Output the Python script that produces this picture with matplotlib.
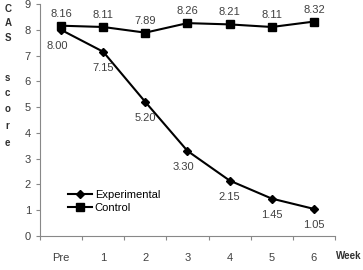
import matplotlib.pyplot as plt
import numpy as np

plt.rcParams['font.family'] = ['Liberation Sans', 'DejaVu Sans']

weeks = ['Pre', '1', '2', '3', '4', '5', '6']
experimental = [8.00, 7.15, 5.20, 3.30, 2.15, 1.45, 1.05]
control = [8.16, 8.11, 7.89, 8.26, 8.21, 8.11, 8.32]

fig = plt.figure(figsize=(3.63, 2.70), dpi=100)
ax = fig.add_axes([0.110, 0.126, 0.813, 0.859])

x = np.arange(len(weeks))
ax.plot(x, experimental, '-D', color='black', lw=1.5, ms=4, label='Experimental')
ax.plot(x, control, '-s', color='black', lw=1.5, ms=5.5, label='Control')

# data labels
for i, v in enumerate(control):
    ax.annotate('%.2f' % v, (i, v), xytext=(0, 5), textcoords='offset points',
                ha='center', va='bottom', fontsize=8, color='#404040')
for i, v in enumerate(experimental):
    dx = -3 if i in (0, 3) else 0
    dy = -8
    ax.annotate('%.2f' % v, (i, v), xytext=(dx, dy), textcoords='offset points',
                ha='center', va='top', fontsize=8, color='#404040')

ax.set_xlim(-0.5, 6.5)
ax.set_ylim(0, 9)
ax.set_yticks(range(10))
ax.set_xticks(np.arange(-0.5, 7, 1))
ax.set_xticklabels([])
ax.set_xticks(x, minor=True)
ax.set_xticklabels(weeks, minor=True)
ax.tick_params(axis='x', which='minor', length=0, pad=12, labelsize=8, labelcolor='#404040')
ax.tick_params(axis='x', which='major', length=3, color='#888888')
ax.tick_params(axis='y', length=3, color='#888888', labelsize=8, labelcolor='#404040')

for s in ['top', 'right']:
    ax.spines[s].set_visible(False)
for s in ['left', 'bottom']:
    ax.spines[s].set_color('#888888')

ax.legend(loc='lower left', bbox_to_anchor=(0.08, 0.08), frameon=False, fontsize=8,
          handlelength=2.2, handletextpad=0.2, labelspacing=0.3, borderaxespad=0)

# stacked y label (pixel rows from top)
letters = ['C', 'A', 'S', 's', 'c', 'o', 'r', 'e']
rows = [9, 23, 38, 78, 93, 109, 126, 143]
for ch, r in zip(letters, rows):
    fig.text(0.014, 1 - r / 270, ch, fontsize=7, fontweight='bold',
             ha='left', va='center', color='#303030')
fig.text(0.925, 0.035, 'Week', fontsize=7, fontweight='bold', ha='left',
         va='bottom', color='#303030')

plt.savefig('out.png', dpi=100)
